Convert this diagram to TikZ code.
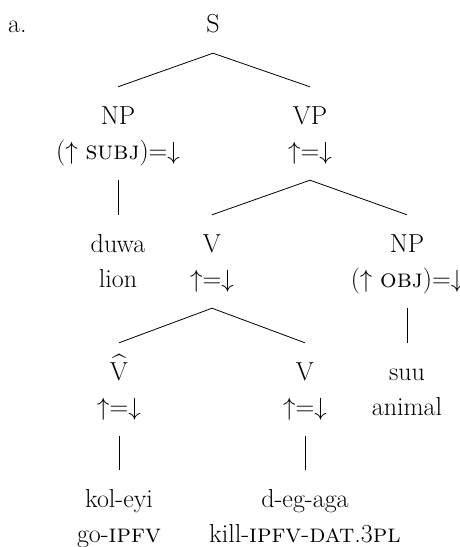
\documentclass[tikz,border=0pt]{standalone}
\usepackage{fontspec}
\usepackage{amsmath}
\begin{document}
\begin{tikzpicture}[x=1pt,y=-1pt,
  lab/.style={anchor=base, font=\fontsize{26}{35}\selectfont, text height=26pt, text depth=10pt, inner xsep=0pt, inner ysep=11pt},
  edge/.style={line width=0.8pt}]
\useasboundingbox (0,0) rectangle (460,547);
\node[lab,anchor=base west] (a) at (8,32) {a.};
\node[lab] (s) at (213,32) {S};
\node[lab] (np) at (118,124) {NP};
\node[lab] (npf) at (118,159) {($\uparrow$ \textsc{subj})=$\downarrow$};
\node[lab] (vp) at (310,124) {VP};
\node[lab] (vpf) at (310,159) {$\uparrow$=$\downarrow$};
\node[lab] (duwa) at (118,252) {duwa};
\node[lab] (lion) at (118,287) {lion};
\node[lab] (v) at (212,252) {V};
\node[lab] (vf) at (212,287) {$\uparrow$=$\downarrow$};
\node[lab] (np2) at (407,252) {NP};
\node[lab] (np2f) at (407,287) {($\uparrow$ \textsc{obj})=$\downarrow$};
\node[lab] (vh) at (119,380) {$\widehat{\text{V}}$};
\node[lab] (vhf) at (119,415) {$\uparrow$=$\downarrow$};
\node[lab] (v2) at (305,380) {V};
\node[lab] (v2f) at (305,415) {$\uparrow$=$\downarrow$};
\node[lab] (suu) at (407,380) {suu};
\node[lab] (animal) at (407,415) {animal};
\node[lab] (kol) at (119,507) {kol-eyi};
\node[lab] (go) at (119,542) {go-\textsc{ipfv}};
\node[lab] (deg) at (305,507) {d-eg-aga};
\node[lab] (kill) at (305,542) {kill-\textsc{ipfv}-\textsc{dat}.3\textsc{pl}};
\draw[edge] (np.north) -- (s.south) -- (vp.north);
\draw[edge] (npf.south) -- (duwa.north);
\draw[edge] (v.north) -- (vpf.south) -- (np2.north);
\draw[edge] (vh.north) -- (vf.south) -- (v2.north);
\draw[edge] (np2f.south) -- (suu.north);
\draw[edge] (vhf.south) -- (kol.north);
\draw[edge] (v2f.south) -- (deg.north);
\end{tikzpicture}
\end{document}
